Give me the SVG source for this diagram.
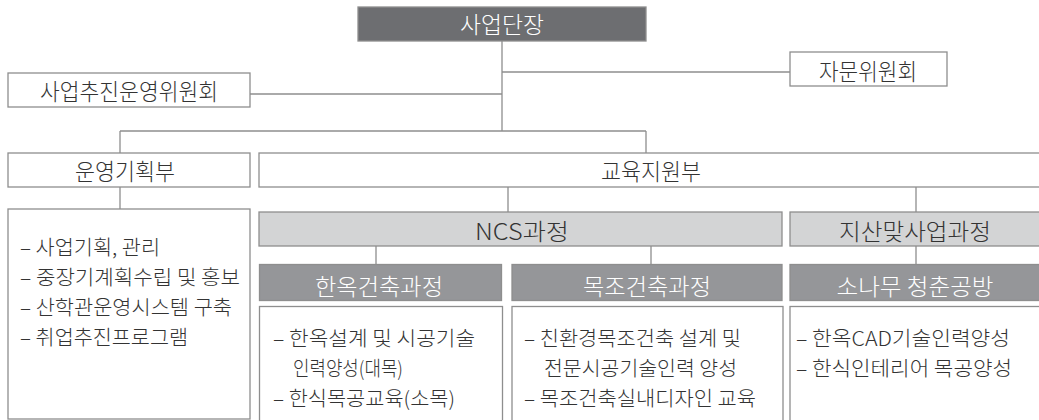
<svg xmlns="http://www.w3.org/2000/svg" width="1039" height="420" viewBox="0 0 1039 420">
<style>
.box{fill:#ffffff;stroke:#8e8e8e;stroke-width:1.3}
.dark{fill:#6d6e71;stroke:#8e8e8e;stroke-width:1.3}
.mid{fill:#959699;stroke:#8e8e8e;stroke-width:1.3}
.light{fill:#d3d4d5;stroke:#8e8e8e;stroke-width:1.3}
.h{font-family:"Noto Sans CJK KR","Noto Sans",sans-serif;font-weight:300;font-size:23px;fill:#333333;text-anchor:middle}
.hw{font-family:"Noto Sans CJK KR","Noto Sans",sans-serif;font-weight:300;font-size:23px;fill:#ffffff;text-anchor:middle}
.t{font-family:"Noto Sans CJK KR","Noto Sans",sans-serif;font-weight:300;font-size:20px;fill:#333333}
.ln{stroke:#8e8e8e;stroke-width:1.3;fill:none}
</style>
<g id="connectors">
<path class="ln" d="M502 41V131M502 72H790M250 94H502M120 131H646M120 131V153M646 131V153M120 187V209M508 187V212M916 187V212M376 246V264.5M651 246V264.5M916 246V264.5"/>
</g>
<g id="n-saeopdanjang">
<rect class="dark" x="358" y="7" width="288" height="34"/>
<text class="hw" x="502" y="32.5" textLength="84" lengthAdjust="spacingAndGlyphs">사업단장</text>
</g>
<g id="n-jamun">
<rect class="box" x="790" y="52" width="157" height="34"/>
<text class="h" x="868" y="79.5" textLength="98" lengthAdjust="spacingAndGlyphs">자문위원회</text>
</g>
<g id="n-unyeongwiwon">
<rect class="box" x="8" y="73" width="242" height="34"/>
<text class="h" x="129" y="99.5" textLength="178" lengthAdjust="spacingAndGlyphs">사업추진운영위원회</text>
</g>
<g id="n-unyeonggihoek">
<rect class="box" x="8" y="153" width="242" height="34"/>
<text class="h" x="125" y="179.5" textLength="100" lengthAdjust="spacingAndGlyphs">운영기획부</text>
</g>
<g id="n-gyoyuk">
<rect class="box" x="259" y="153" width="800" height="34"/>
<text class="h" x="651" y="179.5" textLength="100" lengthAdjust="spacingAndGlyphs">교육지원부</text>
</g>
<g id="n-ncs">
<rect class="light" x="259" y="212" width="523" height="34"/>
<text class="h" x="522" y="239.5" textLength="94" lengthAdjust="spacingAndGlyphs">NCS과정</text>
</g>
<g id="n-jisan">
<rect class="light" x="790" y="212" width="270" height="34"/>
<text class="h" x="915" y="239.5" textLength="152" lengthAdjust="spacingAndGlyphs">지산맞사업과정</text>
</g>
<g id="n-hanok">
<rect class="mid" x="259.5" y="264.5" width="242" height="36"/>
<text class="hw" x="379" y="294.5" textLength="128" lengthAdjust="spacingAndGlyphs">한옥건축과정</text>
</g>
<g id="n-mokjo">
<rect class="mid" x="512" y="264.5" width="270" height="36"/>
<text class="hw" x="647" y="294.5" textLength="128" lengthAdjust="spacingAndGlyphs">목조건축과정</text>
</g>
<g id="n-sonamu">
<rect class="mid" x="790" y="264.5" width="270" height="36"/>
<text class="hw" x="915" y="294.5" textLength="157" lengthAdjust="spacingAndGlyphs">소나무 청춘공방</text>
</g>
<g id="n-unyeong-content">
<rect class="box" x="8" y="209" width="242" height="210"/>
<text class="t" x="20" y="255" textLength="140" lengthAdjust="spacingAndGlyphs">– 사업기획, 관리</text>
<text class="t" x="20" y="285" textLength="220" lengthAdjust="spacingAndGlyphs">– 중장기계획수립 및 홍보</text>
<text class="t" x="20" y="315" textLength="212" lengthAdjust="spacingAndGlyphs">– 산학관운영시스템 구축</text>
<text class="t" x="20" y="345" textLength="168" lengthAdjust="spacingAndGlyphs">– 취업추진프로그램</text>
</g>
<g id="n-hanok-content">
<rect class="box" x="259.5" y="306.5" width="243" height="130"/>
<text class="t" x="273" y="345.5" textLength="202" lengthAdjust="spacingAndGlyphs">– 한옥설계 및 시공기술</text>
<text class="t" x="293" y="375.5" textLength="110" lengthAdjust="spacingAndGlyphs">인력양성(대목)</text>
<text class="t" x="273" y="405.5" textLength="182" lengthAdjust="spacingAndGlyphs">– 한식목공교육(소목)</text>
</g>
<g id="n-mokjo-content">
<rect class="box" x="512" y="306.5" width="271" height="130"/>
<text class="t" x="524" y="345.5" textLength="217" lengthAdjust="spacingAndGlyphs">– 친환경목조건축 설계 및</text>
<text class="t" x="544" y="375.5" textLength="193" lengthAdjust="spacingAndGlyphs">전문시공기술인력 양성</text>
<text class="t" x="524" y="405.5" textLength="232" lengthAdjust="spacingAndGlyphs">– 목조건축실내디자인 교육</text>
</g>
<g id="n-sonamu-content">
<rect class="box" x="790" y="306.5" width="270" height="130"/>
<text class="t" x="796" y="345.5" textLength="214" lengthAdjust="spacingAndGlyphs">– 한옥CAD기술인력양성</text>
<text class="t" x="796" y="375.5" textLength="216" lengthAdjust="spacingAndGlyphs">– 한식인테리어 목공양성</text>
</g>
</svg>
